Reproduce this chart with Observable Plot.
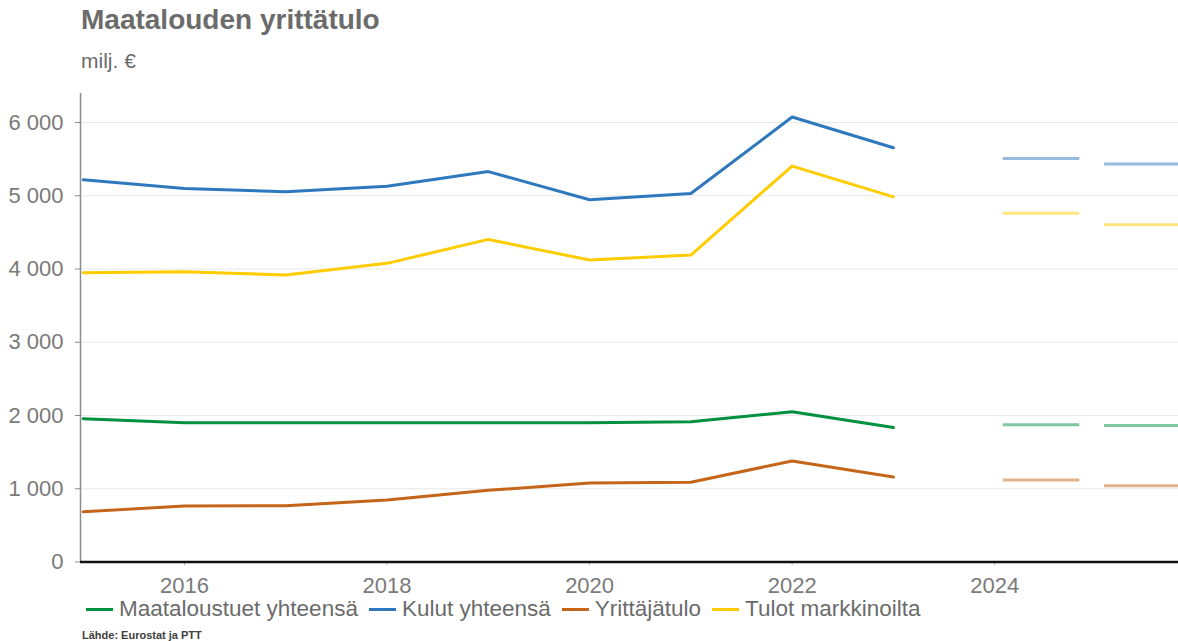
<!DOCTYPE html>
<html>
<head>
<meta charset="utf-8">
<script src="https://cdn.jsdelivr.net/npm/d3@7"></script>
<script src="https://cdn.jsdelivr.net/npm/@observablehq/plot@0.6"></script>
<style>
  body { margin: 0; background: #fff; font-family: "Liberation Sans", Arial, sans-serif; }
  #wrap { position: relative; width: 1178px; height: 641px; overflow: hidden; background: #fff; }
  #title { position: absolute; left: 81px; top: 4px; font-size: 28px; font-weight: bold; color: #6b6b6b; white-space: nowrap; line-height: normal; }
  #subtitle { position: absolute; left: 81px; top: 49px; font-size: 21px; color: #6b6b6b; white-space: nowrap; line-height: normal; }
  #chart { position: absolute; left: 0; top: 80px; }
  #legend { position: absolute; left: 86px; top: 596px; display: flex; align-items: center; font-size: 22.5px; color: #6b6b6b; line-height: normal; white-space: nowrap; }
  .item { display: flex; align-items: center; margin-right: 11px; }
  .sw { width: 27px; height: 3px; margin-right: 6px; }
  #source { position: absolute; left: 82px; top: 629px; font-size: 11px; font-weight: bold; color: #404040; line-height: normal; white-space: nowrap; }
</style>
</head>
<body>
<div id="wrap">
  <div id="title">Maatalouden yrittätulo</div>
  <div id="subtitle">milj. €</div>
  <div id="chart"></div>
  <div id="legend"></div>
  <div id="source">Lähde: Eurostat ja PTT</div>
</div>
<script>
// ---- Data ----
const years = [2015, 2016, 2017, 2018, 2019, 2020, 2021, 2022, 2023];
const seriesNames = ["Maataloustuet yhteensä", "Kulut yhteensä", "Yrittäjätulo", "Tulot markkinoilta"];
const seriesColors = ["#00913f", "#2e78bd", "#c5651a", "#ffcc00"];

const maataloustuet = [1955, 1900, 1900, 1900, 1900, 1900, 1915, 2050, 1835];
const kulut = [5220, 5100, 5055, 5130, 5330, 4945, 5030, 6075, 5655];
const yrittajatulo = [685, 765, 767, 848, 978, 1078, 1088, 1380, 1160];
const tulot = [3950, 3963, 3918, 4077, 4404, 4123, 4190, 5405, 4985];

const forecastYears = [2024, 2025];
const maataloustuetEnnuste = [1875, 1865];
const kulutEnnuste = [5510, 5435];
const yrittajatuloEnnuste = [1120, 1040];
const tulotEnnuste = [4760, 4605];

const yTicks = [0, 1000, 2000, 3000, 4000, 5000, 6000];
const xTicks = [2016, 2018, 2020, 2022, 2024];

// ---- Build tables ----
const seriesValues = [maataloustuet, kulut, yrittajatulo, tulot];
const forecastValues = [maataloustuetEnnuste, kulutEnnuste, yrittajatuloEnnuste, tulotEnnuste];
const rows = [];
seriesNames.forEach((name, i) => years.forEach((yr, j) => rows.push({series: name, year: yr, value: seriesValues[i][j]})));
const fRows = [];
seriesNames.forEach((name, i) => forecastYears.forEach((yr, j) => fRows.push({series: name, year: yr, value: forecastValues[i][j]})));

const xMin = 2014.973, xMax = 2025.815;
const fmt = d => d3.format(",")(d).replace(/,/g, " ");

const chart = Plot.plot({
  width: 1178,
  height: 520,
  marginLeft: 80,
  marginRight: 0,
  marginTop: 13,
  marginBottom: 38.5,
  x: {domain: [xMin, xMax], label: null},
  y: {domain: [0, 6396], label: null},
  color: {domain: seriesNames, range: seriesColors},
  style: {fontFamily: "'Liberation Sans', Arial, sans-serif", fontSize: "22px", color: "#7a7a7a", background: "white", overflow: "visible"},
  marks: [
    Plot.gridY(yTicks, {stroke: "#e8e8e8", strokeOpacity: 1, strokeWidth: 1}),
    Plot.axisY(yTicks, {label: null, tickSize: 5, tickPadding: 12, tickFormat: fmt, stroke: "#8c8c8c", fill: "#7a7a7a", fontSize: 22}),
    Plot.axisX(xTicks, {label: null, tickSize: 4, tickPadding: 11, tickFormat: d => String(d), stroke: "#bdbdbd", fill: "#7a7a7a", fontSize: 22}),
    Plot.ruleX([xMin], {stroke: "#8c8c8c", strokeWidth: 1.5}),
    Plot.line(rows, {x: "year", y: "value", z: "series", stroke: "series", strokeWidth: 3}),
    Plot.ruleY(fRows, {y: "value", x1: d => d.year + 0.085, x2: d => d.year + 0.84, stroke: "series", strokeOpacity: 0.5, strokeWidth: 3, clip: true}),
    Plot.ruleY([0], {stroke: "#111", strokeWidth: 2.5})
  ]
});
document.getElementById("chart").appendChild(chart);

// ---- Legend ----
const legend = document.getElementById("legend");
seriesNames.forEach((name, i) => {
  const item = document.createElement("div");
  item.className = "item";
  const sw = document.createElement("span");
  sw.className = "sw";
  sw.style.background = seriesColors[i];
  const label = document.createElement("span");
  label.textContent = name;
  item.appendChild(sw);
  item.appendChild(label);
  legend.appendChild(item);
});
</script>
</body>
</html>
